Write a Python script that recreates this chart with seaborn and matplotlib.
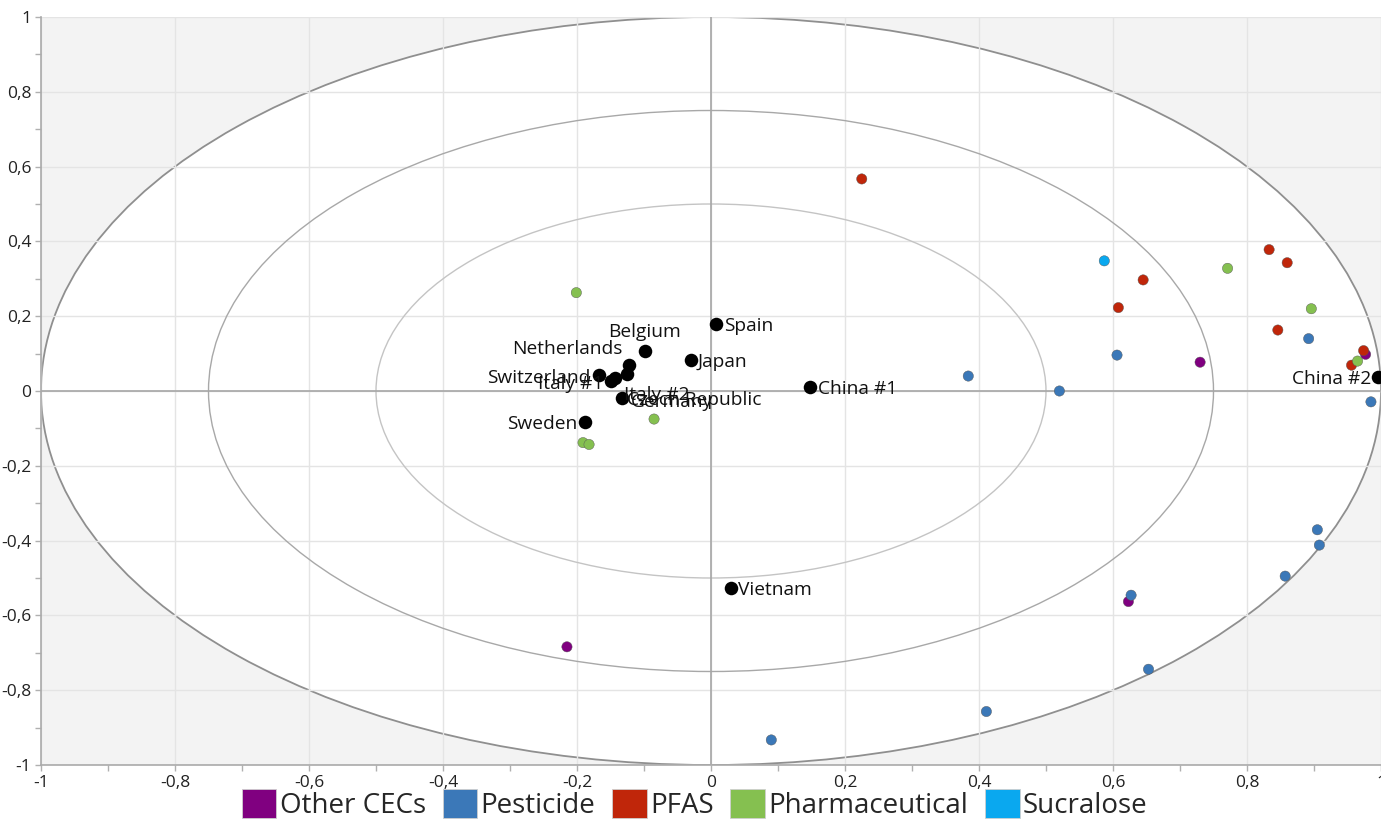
import pandas as pd
import seaborn as sns
import matplotlib.pyplot as plt
from matplotlib.patches import Ellipse, Patch
from matplotlib.ticker import MultipleLocator, FuncFormatter

sns.set_style("white")
plt.rcParams["font.family"] = ["Open Sans", "DejaVu Sans"]

# variables (loadings)
var_group = (["Other CECs"] * 4 + ["Pesticide"] * 12 + ["PFAS"] * 8
             + ["Pharmaceutical"] * 7 + ["Sucralose"])
var_x = [0.730, 0.977, 0.623, -0.215,
         0.090, 0.411, 0.653, 0.627, 0.857, 0.905, 0.908, 0.384, 0.520, 0.606, 0.892, 0.985,
         0.225, 0.833, 0.860, 0.645, 0.608, 0.846, 0.974, 0.956,
         -0.201, -0.191, -0.182, -0.085, 0.771, 0.896, 0.965,
         0.587]
var_y = [0.077, 0.098, -0.563, -0.684,
         -0.933, -0.857, -0.744, -0.546, -0.495, -0.371, -0.412, 0.040, 0.000, 0.096, 0.140, -0.029,
         0.567, 0.378, 0.343, 0.297, 0.223, 0.163, 0.108, 0.069,
         0.263, -0.138, -0.143, -0.075, 0.328, 0.220, 0.080,
         0.348]

# countries (scores)
countries = ["Belgium", "Netherlands", "Switzerland", "Italy #1", "Italy #2", "Germany",
             "Czech Republic", "Sweden", "Spain", "Japan", "China #1", "China #2", "Vietnam"]
cty_x = [-0.099, -0.122, -0.167, -0.149, -0.125, -0.143, -0.133, -0.188, 0.007, -0.030, 0.148, 0.996, 0.030]
cty_y = [0.107, 0.070, 0.043, 0.027, 0.045, 0.035, -0.019, -0.083, 0.179, 0.083, 0.011, 0.038, -0.527]

palette = {"Other CECs": "#800080", "Pesticide": "#3b78b8", "PFAS": "#c0260a",
           "Pharmaceutical": "#85c050", "Sucralose": "#0aa8ef"}

# label offsets in pixels (dx, dy, ha)
label_pos = {
    "Belgium": (0, 19, "center"), "Netherlands": (-7, 16, "right"),
    "Switzerland": (-9, -3, "right"), "Italy #1": (-8, -3, "right"),
    "Italy #2": (-3, -21, "left"), "Germany": (16, -24, "left"),
    "Czech Republic": (5, -2, "left"), "Sweden": (-8, -2, "right"),
    "Spain": (8, -2, "left"), "Japan": (7, -2, "left"), "China #1": (8, -2, "left"),
    "China #2": (-7, -2, "right"), "Vietnam": (7, -2, "left"),
}

df_var = pd.DataFrame({"x": var_x, "y": var_y, "group": var_group})
df_cty = pd.DataFrame({"x": cty_x, "y": cty_y, "name": countries})

fig = plt.figure(figsize=(13.81, 8.30), dpi=100)
ax = fig.add_axes([41 / 1381, 1 - 765 / 830, 1 - 41 / 1381, (765 - 17) / 830])
ax.set_facecolor("#f3f3f3")

# correlation ellipses
ax.add_patch(Ellipse((0, 0), 2, 2, facecolor="white", edgecolor="#8f8f8f", lw=1.3, zorder=0.2))
ax.add_patch(Ellipse((0, 0), 1.5, 1.5, facecolor="none", edgecolor="#a8a8a8", lw=1.0, zorder=0.8))
ax.add_patch(Ellipse((0, 0), 1.0, 1.0, facecolor="none", edgecolor="#c4c4c4", lw=1.0, zorder=0.8))

ax.set_axisbelow(True)
ax.grid(True, which="major", color="#e4e4e4", lw=1.0)
ax.axhline(0, color="#a6a6a6", lw=1.2, zorder=0.9)
ax.axvline(0, color="#a6a6a6", lw=1.2, zorder=0.9)

sns.scatterplot(data=df_var, x="x", y="y", hue="group", palette=palette, s=55,
                edgecolor="#555555", linewidth=0.3, legend=False, ax=ax, zorder=3)
sns.scatterplot(data=df_cty, x="x", y="y", color="black", s=95, edgecolor="black",
                linewidth=0, legend=False, ax=ax, zorder=4)

for name, x, y in zip(countries, cty_x, cty_y):
    dx, dy, ha = label_pos[name]
    ax.annotate(name, (x, y), xytext=(dx, dy), textcoords="offset pixels",
                ha=ha, va="center", fontsize=13.8, color="#111111", zorder=5)

ax.set_xlim(-1, 1)
ax.set_ylim(-1, 1)
ax.xaxis.set_major_locator(MultipleLocator(0.2))
ax.yaxis.set_major_locator(MultipleLocator(0.2))
ax.xaxis.set_minor_locator(MultipleLocator(0.1))
ax.yaxis.set_minor_locator(MultipleLocator(0.1))
fmt = FuncFormatter(lambda v, p: ("%g" % round(v, 1)).replace(".", ","))
ax.xaxis.set_major_formatter(fmt)
ax.yaxis.set_major_formatter(fmt)
ax.tick_params(which="both", direction="out", color="#b0b0b0", width=1, labelsize=12.5,
               labelcolor="#222222", bottom=True, left=True)
ax.tick_params(which="major", length=4, pad=3)
ax.tick_params(which="minor", length=4)
ax.set_xlabel("")
ax.set_ylabel("")
for side in ["top", "right"]:
    ax.spines[side].set_visible(False)
for side in ["left", "bottom"]:
    ax.spines[side].set_color("#aaaaaa")
    ax.spines[side].set_linewidth(1.2)

handles = [Patch(facecolor=c, edgecolor="#cfcfcf", linewidth=0.6, label=k) for k, c in palette.items()]
fig.legend(handles=handles, loc="lower center", bbox_to_anchor=(0.503, -0.008), ncol=5,
           frameon=False, fontsize=20, handlelength=1.25, handleheight=1.25,
           handletextpad=0.12, columnspacing=0.6, borderaxespad=0.2)

fig.savefig("out.png", dpi=100)
